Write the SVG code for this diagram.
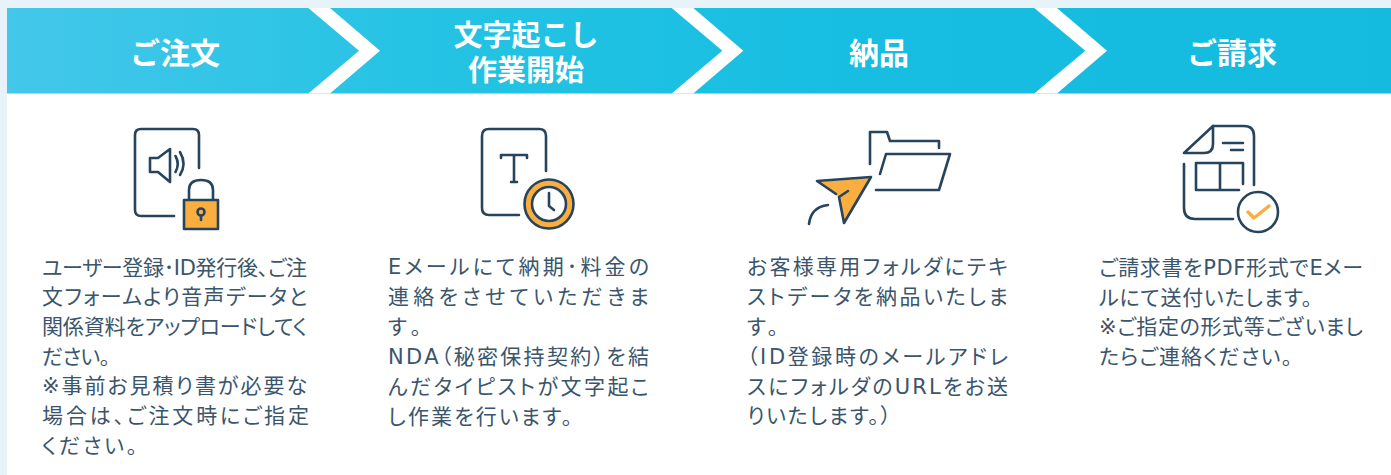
<svg xmlns="http://www.w3.org/2000/svg" width="1391" height="475" viewBox="0 0 1391 475">
<defs>
<linearGradient id="g" gradientUnits="userSpaceOnUse" x1="7" y1="0" x2="1391" y2="0"><stop offset="0" stop-color="#43c7ea"/><stop offset="0.3" stop-color="#25c3e4"/><stop offset="0.6" stop-color="#17bee1"/><stop offset="1" stop-color="#14bbdf"/></linearGradient>
</defs>
<style>
.h{font-family:"DejaVu Sans","Noto Sans CJK JP",sans-serif;font-size:30px;font-weight:700;fill:#fff;text-anchor:middle}
.h2{font-size:29px}
.t{font-family:"DejaVu Sans","Noto Sans CJK JP",sans-serif;font-size:21px;fill:#3a556c;font-feature-settings:"palt"}
.i{fill:none;stroke:#27445f;stroke-width:2.6;stroke-linecap:round;stroke-linejoin:round}
.o{fill:#fbae40}
.c{fill:#fff}
</style>
<rect width="1391" height="475" fill="#e7f3f9"/>
<rect x="7" y="8" width="1384" height="467" fill="#fff"/>
<rect x="7" y="8" width="1384" height="85.500" fill="url(#g)"/>
<g id="connectors">
<path class="c" d="M308.300 8H330L380 50.700L330 93.500H308.300L359 50.700Z"/>
<path class="c" d="M671.700 8H693.300L743.300 50.700L693.300 93.500H671.700L722.300 50.700Z"/>
<path class="c" d="M1034.300 8H1057L1107 50.700L1057 93.500H1034.300L1085.300 50.700Z"/>
</g>
<g id="step1">
<text class="h" x="175" y="63.500">ご注文</text>
<path class="i" d="M199 168V135Q199 129 193 129H141Q135 129 135 135V210Q135 216 141 216H174"/>
<path class="i" d="M150 158V172H158L170 182V149L158 158Z"/>
<path class="i" d="M175.500 156Q180 164 175.500 172M180 152Q187 164 180 175"/>
<rect class="o" x="184" y="200" width="34" height="29"/>
<path class="i" d="M189 199V190Q189 180 201 180Q213 180 213 190V199"/>
<rect class="i" x="184" y="200" width="34" height="29"/>
<circle class="i" cx="201" cy="212" r="3.500"/><path class="i" d="M201 216V220"/>
<text class="t"><tspan x="42" y="275" textLength="265">ユーザー登録･ID発行後、ご注</tspan><tspan x="42" y="304" textLength="265">文フォームより音声データと</tspan><tspan x="42" y="334" textLength="265">関係資料をアップロードしてく</tspan><tspan x="42" y="364" textLength="68">ださい。</tspan><tspan x="42" y="393" textLength="265">※事前お見積り書が必要な</tspan><tspan x="42" y="423" textLength="267">場合は、ご注文時にご指定</tspan><tspan x="42" y="453" textLength="95">ください。</tspan></text>
</g>
<g id="step2">
<text class="h h2"><tspan x="526" y="46">文字起こし</tspan><tspan x="526" y="81">作業開始</tspan></text>
<path class="i" d="M546 171V136Q546 129 539 129H489Q482 129 482 136V208Q482 215 489 215H519"/>
<path class="i" d="M501 158V155H527V158M514 155V182M511 182H517"/>
<circle cx="549" cy="204" r="24.500" fill="#fbae40" stroke="#27445f" stroke-width="2.600"/>
<circle cx="549" cy="204" r="17" fill="#fff" stroke="#27445f" stroke-width="2.600"/>
<path class="i" d="M549 193V206L554 210"/>
<text class="t"><tspan x="388" y="274" textLength="261">Eメールにて納期･料金の</tspan><tspan x="388" y="304" textLength="261">連絡をさせていただきま</tspan><tspan x="388" y="334" textLength="33">す。</tspan><tspan x="388" y="364" textLength="261">NDA（秘密保持契約）を結</tspan><tspan x="388" y="394" textLength="261">んだタイピストが文字起こ</tspan><tspan x="388" y="424" textLength="184">し作業を行います。</tspan></text>
</g>
<g id="step3">
<text class="h" x="879" y="63.500">納品</text>
<path class="i" d="M870 164V132H887L890 141H939V148"/>
<path class="i" d="M880 174L886 154H950L939 190H876"/>
<path class="o" d="M817 182L871 178L844 223L839 197Z"/>
<path class="i" d="M817 181L871 177L844 223L839 197L848 191M817 181L836 194"/>
<path class="i" d="M809 224Q811 207 828 205"/>
<text class="t"><tspan x="747" y="274" textLength="261">お客様専用フォルダにテキ</tspan><tspan x="747" y="304" textLength="261">ストデータを納品いたしま</tspan><tspan x="747" y="334" textLength="31">す。</tspan><tspan x="747" y="364" textLength="261">（ID登録時のメールアドレ</tspan><tspan x="747" y="394" textLength="261">スにフォルダのURLをお送</tspan><tspan x="747" y="423" textLength="144">りいたします。）</tspan></text>
</g>
<g id="step4">
<text class="h" x="1232" y="63.500">ご請求</text>
<path class="i" d="M1213 126H1244Q1254 126 1254 136V185M1184 164V208Q1184 219 1195 219H1233"/>
<path class="i" d="M1184 153L1213 126V144Q1213 153 1204 153Z"/>
<path class="i" d="M1223 143H1243M1231 150H1243"/>
<path class="i" d="M1243 184V163H1196V190H1239M1220 163V190"/>
<circle class="i" cx="1258" cy="212" r="20"/>
<path d="M1248 212L1254 218L1269 206" fill="none" stroke="#fbae40" stroke-width="3.500" stroke-linecap="round" stroke-linejoin="round"/>
<text class="t"><tspan x="1099" y="275" textLength="264">ご請求書をPDF形式でEメー</tspan><tspan x="1099" y="305" textLength="213">ルにて送付いたします。</tspan><tspan x="1099" y="334" textLength="264">※ご指定の形式等ございまし</tspan><tspan x="1099" y="364" textLength="193">たらご連絡ください。</tspan></text>
</g>
</svg>
